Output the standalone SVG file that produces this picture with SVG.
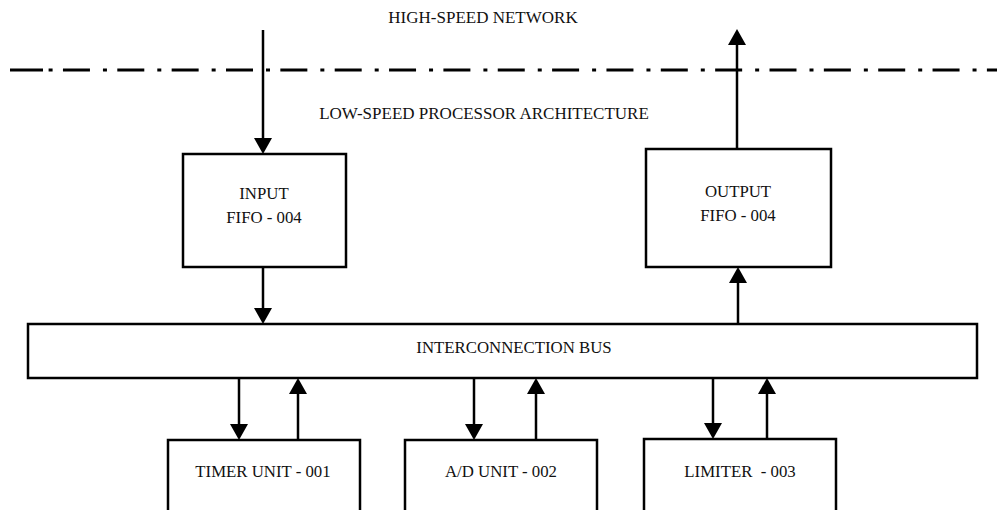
<svg xmlns="http://www.w3.org/2000/svg" width="997" height="510" viewBox="0 0 997 510">
<defs>
<style>
.box{fill:#fff;stroke:#000;stroke-width:2.5}
.lbl{font-family:"Liberation Serif","Times New Roman",serif;font-size:16.8px;fill:#111;text-anchor:middle;white-space:pre}
.big{font-size:17px}
.con{stroke:#000;stroke-width:2.5;fill:none;marker-end:url(#ah)}
.div{stroke:#000;stroke-width:3;fill:none}
</style>
<marker id="ah" viewBox="0 0 16 18" refX="8" refY="9" markerWidth="16" markerHeight="18" markerUnits="userSpaceOnUse" orient="auto">
<path d="M0,0 L16,9 L0,18 z" fill="#000"/>
</marker>
</defs>
<g id="boundary">
<line class="div" x1="10" y1="70" x2="43" y2="70"/>
<line class="div" x1="48.6" y1="70" x2="997" y2="70" stroke-dasharray="4 10.35 27 13"/>
<text class="lbl big" x="483" y="23">HIGH-SPEED NETWORK</text>
<text class="lbl big" x="484" y="119">LOW-SPEED PROCESSOR ARCHITECTURE</text>
</g>
<g id="input-fifo">
<rect class="box" x="183" y="154" width="163" height="113"/>
<text class="lbl" x="264" y="199">INPUT</text>
<text class="lbl" x="264" y="223">FIFO - 004</text>
</g>
<g id="output-fifo">
<rect class="box" x="646" y="149" width="185" height="118"/>
<text class="lbl" x="738" y="197">OUTPUT</text>
<text class="lbl" x="738" y="221">FIFO - 004</text>
</g>
<g id="bus">
<rect class="box" x="28" y="324" width="949" height="54"/>
<text class="lbl" x="514" y="353">INTERCONNECTION BUS</text>
</g>
<g id="timer-unit">
<rect class="box" x="168" y="440" width="192" height="85"/>
<text class="lbl" x="263" y="477">TIMER UNIT - 001</text>
</g>
<g id="ad-unit">
<rect class="box" x="405" y="440" width="192" height="85"/>
<text class="lbl" x="501" y="477">A/D UNIT - 002</text>
</g>
<g id="limiter">
<rect class="box" x="644" y="439" width="192" height="86"/>
<text class="lbl" x="740" y="477">LIMITER  - 003</text>
</g>
<g id="connectors">
<line class="con" x1="263" y1="30" x2="263" y2="146"/>
<line class="con" x1="263" y1="267" x2="263" y2="316"/>
<line class="con" x1="738" y1="324" x2="738" y2="275"/>
<line class="con" x1="737" y1="149" x2="737" y2="37"/>
<line class="con" x1="239" y1="378" x2="239" y2="432"/>
<line class="con" x1="298" y1="440" x2="298" y2="386"/>
<line class="con" x1="474" y1="378" x2="474" y2="432"/>
<line class="con" x1="536" y1="440" x2="536" y2="386"/>
<line class="con" x1="713" y1="378" x2="713" y2="431"/>
<line class="con" x1="767" y1="439" x2="767" y2="386"/>
</g>
</svg>
